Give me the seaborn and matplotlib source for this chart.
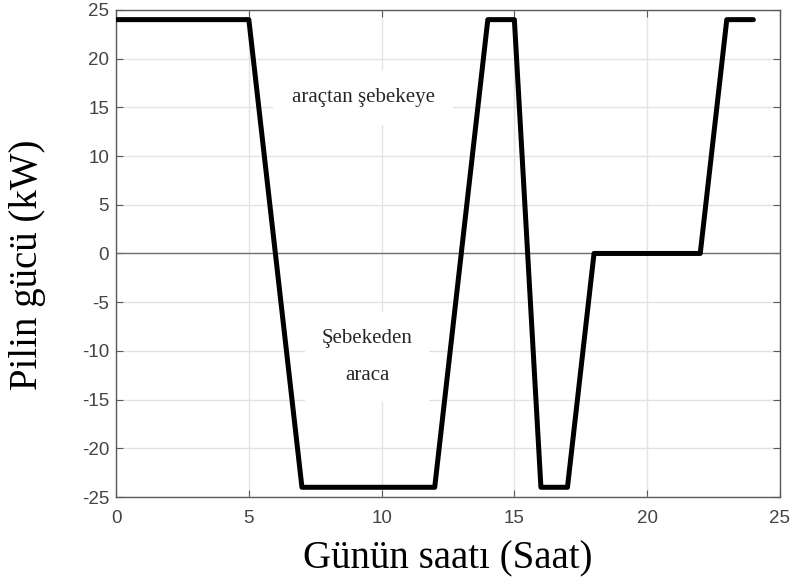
import matplotlib
matplotlib.use("Agg")
import matplotlib.pyplot as plt
import seaborn as sns
import pandas as pd

# Battery power profile over the day (kW)
hours = [0, 5, 7, 12, 14, 15, 16, 17, 18, 22, 23, 24]
power_kw = [24, 24, -24, -24, 24, 24, -24, -24, 0, 0, 24, 24]
x_ticks = [0, 5, 10, 15, 20, 25]
y_ticks = [-25, -20, -15, -10, -5, 0, 5, 10, 15, 20, 25]

df = pd.DataFrame({"saat": hours, "guc": power_kw})

sns.set_theme(style="whitegrid")
plt.rcParams["font.family"] = ["Liberation Sans", "DejaVu Sans"]
plt.rcParams["axes.unicode_minus"] = False

fig = plt.figure(figsize=(7.95, 5.82), dpi=100)
ax = fig.add_axes([0.146, 0.146, 0.835, 0.837])

ax.axhline(0, color="#707070", linewidth=1.0, zorder=1.5)
sns.lineplot(data=df, x="saat", y="guc", ax=ax, color="black", linewidth=3.6,
             zorder=3)

ax.set_xlim(0, 25)
ax.set_ylim(-25, 25)
ax.set_xticks(x_ticks)
ax.set_yticks(y_ticks)
ax.grid(True, color="#e3e3e3", linewidth=1.0)
for side in ["left", "right", "top", "bottom"]:
    ax.spines[side].set_visible(True)
    ax.spines[side].set_color("#5a5a5a")
    ax.spines[side].set_linewidth(1.0)
ax.tick_params(axis="both", direction="in", length=5, width=0.8,
               colors="#5a5a5a", labelcolor="#444444", labelsize=13.5,
               top=True, right=True, bottom=True, left=True)
ax.tick_params(axis="x", pad=9)
ax.tick_params(axis="y", pad=5)

serif = ["Liberation Serif", "DejaVu Serif"]
ax.set_xlabel("Günün saatı (Saat)", family=serif, fontsize=28, color="black")
ax.set_ylabel("Pilin gücü (kW)", family=serif, fontsize=28, color="black")
ax.xaxis.set_label_coords(0.5, -0.09)
ax.yaxis.set_label_coords(-0.106, 0.477)

ax.text(9.3, 16, "araçtan şebekeye", family=serif, fontsize=15,
        ha="center", va="center", zorder=2,
        bbox=dict(facecolor="white", edgecolor="none", pad=13))
ax.text(9.45, -10.6, "Şebekeden\naraca", family=serif, fontsize=15,
        ha="center", va="center", linespacing=2.3, zorder=2,
        bbox=dict(facecolor="white", edgecolor="none", pad=12))

fig.savefig("out.png", dpi=100)
